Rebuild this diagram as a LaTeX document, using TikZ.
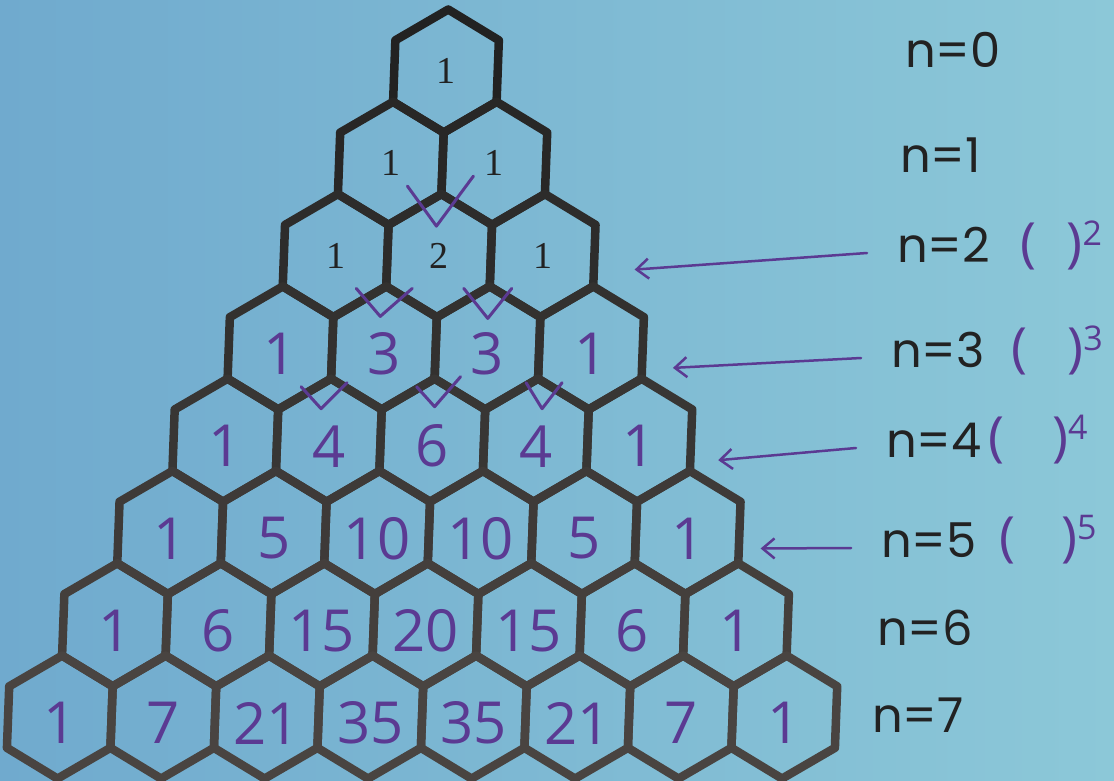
\documentclass[tikz,border=0pt]{standalone}
\usepackage{fontspec}
\setsansfont{Poppins}
\newfontfamily\printfont{Liberation Serif}
\newfontfamily\penfont{Open Sans}
\usetikzlibrary{positioning, arrows.meta, calc}

\definecolor{paperL}{HTML}{70AACE}
\definecolor{paperR}{HTML}{8CC8D8}
\definecolor{inkdark}{HTML}{222222}
\definecolor{inklight}{HTML}{5A534E}
\definecolor{pen}{HTML}{5B3A92}

\newcommand{\powsup}[1]{\raisebox{16pt}{\fontsize{34}{34}\selectfont #1}}

\begin{document}
\begin{tikzpicture}[
  x=1pt, y=-1pt,
  hexline/.style={line width=8.5pt, line join=round},
  cell/.style={minimum width=103.5pt, minimum height=100pt, inner sep=0pt},
  printed/.style={cell, font=\printfont\fontsize{38}{38}\selectfont, text=inkdark},
  hand/.style={cell, font=\penfont\fontsize{58}{58}\selectfont, text=pen, yshift=-6pt},
  rowlabel/.style={anchor=west, inner sep=0pt, font=\sffamily\fontsize{48}{48}\selectfont, text=inkdark},
  powlabel/.style={inner sep=0pt, font=\penfont\fontsize{54}{54}\selectfont, text=pen},
  arrow/.style={draw=pen, line width=2.5pt, line cap=round, -{Straight Barb[length=12pt, width=20pt]}},
  tick/.style={draw=pen, line width=3pt, line cap=round, line join=round},
]
\useasboundingbox (0,0) rectangle (1114,781);
\shade[left color=paperL, right color=paperR] (0,0) rectangle (1114,781);

% honeycomb, slanted a little like the photo
\begin{scope}[xslant=0.037]
  \foreach \r in {0,...,7} {
    \pgfmathtruncatemacro\mix{100-10*\r}
    \foreach \k in {0,...,\r} {
      \coordinate (h-\r-\k) at ({448.6+(\k-\r/2)*103.5}, {71+\r*92.3});
      \coordinate (j-\r-\k) at ({448.6+(\k-\r/2)*103.5+51.75}, {71+\r*92.3+30.8});
      \draw[hexline, draw=inkdark!\mix!inklight] (h-\r-\k) ++(0,-61.5) -- ++(51.75,30.75) -- ++(0,61.5)
        -- ++(-51.75,30.75) -- ++(-51.75,-30.75) -- ++(0,-61.5) -- cycle;
    }
  }

  \foreach \r/\vals in {0/{1}, 1/{1,1}, 2/{1,2,1}}
    \foreach \v [count=\k from 0] in \vals
      \node[printed] (c-\r-\k) at (h-\r-\k) {\v};

  \foreach \r/\vals in {3/{1,3,3,1}, 4/{1,4,6,4,1}, 5/{1,5,10,10,5,1},
                        6/{1,6,15,20,15,6,1}, 7/{1,7,21,35,35,21,7,1}}
    \foreach \v [count=\k from 0] in \vals
      \node[hand] (c-\r-\k) at (h-\r-\k) {\v};
\end{scope}

% row labels
\foreach \r/\x/\y in {0/905/50, 1/900/155, 2/897/245, 3/891/350,
                      4/886/440, 5/881/540, 6/877/628, 7/872/715}
  \node[rowlabel] (lab\r) at (\x,\y) {n=\r};

\node[powlabel, right=30pt of lab2] (pow2) {(\hspace{30pt})\powsup{2}};
\node[powlabel, right=26pt of lab3] (pow3) {(\hspace{40pt})\powsup{3}};
\node[powlabel, right=6pt of lab4] (pow4) {(\hspace{48pt})\powsup{4}};
\node[powlabel, right=22pt of lab5] (pow5) {(\hspace{46pt})\powsup{5}};

\foreach \r/\gap/\dy in {2/40/14, 3/30/14, 4/27/14, 5/21/10}
  \draw[arrow] ([xshift=-30pt, yshift=-8pt]lab\r.west) -- ($(c-\r-\r.east)+(\gap,\dy)$);

% pen ticks under the pairs that were added
\foreach \jn/\ax/\ay/\bx/\by/\cx/\cy in {
    1-0/-34/-8/-5/32/32/-18,
    2-0/-30/2/-6/30/26/2,
    2-1/-26/2/-2/32/22/2,
    3-0/-30/8/-10/30/16/4,
    3-1/-18/8/0/28/26/-2,
    3-2/-12/4/4/30/24/4}
  \draw[tick] ($(j-\jn)+(\ax,\ay)$) -- ($(j-\jn)+(\bx,\by)$) -- ($(j-\jn)+(\cx,\cy)$);
\end{tikzpicture}
\end{document}
